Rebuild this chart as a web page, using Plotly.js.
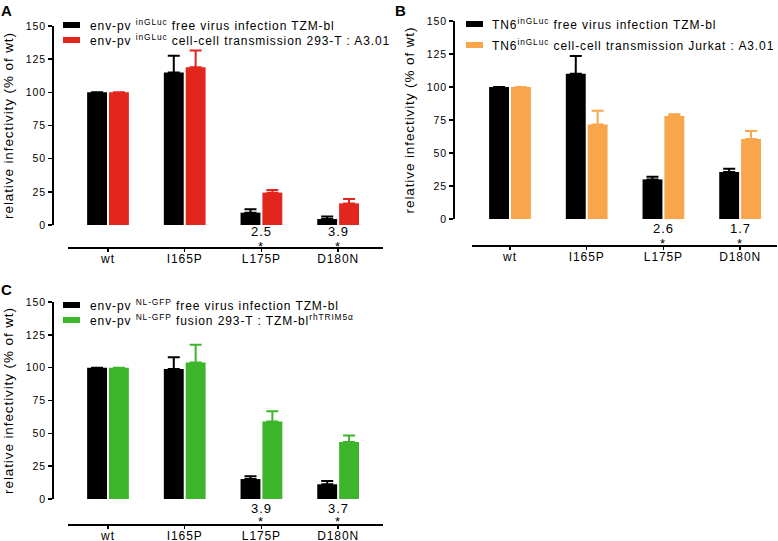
<!DOCTYPE html>
<html>
<head>
<meta charset="utf-8">
<script src="https://cdn.plot.ly/plotly-3.0.1.min.js"></script>
<style>
html,body{margin:0;padding:0;background:#fff;}
#chart{width:778px;height:541px;}
svg text{letter-spacing:0.9px;}
</style>
</head>
<body>
<div id="chart"></div>
<script>
// ---------- data ----------
const categories = ['wt', 'I165P', 'L175P', 'D180N'];

const aFree = [100, 115, 9.3, 4.5];
const aFreeErr = [null, 12.5, 2.5, 2];
const aCell = [100, 119, 24.4, 16.3];
const aCellErr = [null, 12.5, 2, 3.3];
const aRatio = ['', '', '2.5', '3.9'];

const bFree = [100, 110, 30, 35.7];
const bFreeErr = [null, 13.5, 2, 2.3];
const bCell = [100, 71.5, 78, 60.7];
const bCellErr = [null, 10.5, 1.3, 6];
const bRatio = ['', '', '2.6', '1.7'];

const cFree = [100, 99, 15.2, 11.2];
const cFreeErr = [null, 9, 2.1, 2.5];
const cCell = [100, 104, 59, 43.4];
const cCellErr = [null, 13.5, 7.8, 5];
const cRatio = ['', '', '3.9', '3.7'];

const legendA = ['env-pv <sup>inGLuc</sup> free virus infection TZM-bl',
                 'env-pv <sup>inGLuc</sup> cell-cell transmission 293-T : A3.01'];
const legendB = ['TN6<sup>inGLuc</sup> free virus infection TZM-bl',
                 'TN6<sup>inGLuc</sup> cell-cell transmission Jurkat : A3.01'];
const legendC = ['env-pv <sup>NL-GFP</sup> free virus infection TZM-bl',
                 'env-pv <sup>NL-GFP</sup> fusion 293-T : TZM-bl<sup>rhTRIM5\u03b1</sup>'];

const yTitle = 'relative infectivity (% of wt)';

// ---------- styling ----------
const W = 778, H = 541;
const px = x => x / W;
const py = y => 1 - y / H;
const FONT = 'Arial, "Liberation Sans", Helvetica, sans-serif';
const BLACK = '#000000', RED = '#e2261d', ORANGE = '#f8a54b', GREEN = '#3cb52a';

function barTrace(vals, errs, color, xa, ya) {
  return {
    type: 'bar', x: categories, y: vals, xaxis: xa, yaxis: ya,
    marker: {color: color, line: {width: 0}},
    error_y: {type: 'data', symmetric: false, array: errs,
              arrayminus: errs.map(e => (e === null ? null : 0)),
              color: color, thickness: 2, width: 6},
    showlegend: false, hoverinfo: 'skip'
  };
}

const data = [
  barTrace(aFree, aFreeErr, BLACK, 'x', 'y'),
  barTrace(aCell, aCellErr, RED, 'x', 'y'),
  barTrace(bFree, bFreeErr, BLACK, 'x2', 'y2'),
  barTrace(bCell, bCellErr, ORANGE, 'x2', 'y2'),
  barTrace(cFree, cFreeErr, BLACK, 'x3', 'y3'),
  barTrace(cCell, cCellErr, GREEN, 'x3', 'y3')
];

function yAxis(top, bottom, xpos) {
  return {
    domain: [py(bottom), py(top)], anchor: 'free', position: px(xpos),
    range: [0, 150], tickvals: [0, 25, 50, 75, 100, 125, 150],
    showline: true, linecolor: '#000', linewidth: 1.5,
    ticks: 'outside', ticklen: 4, tickwidth: 1.5, tickcolor: '#000',
    showgrid: false, zeroline: false, fixedrange: true,
    tickfont: {family: FONT, size: 10.5, color: '#000'},
    title: {text: yTitle, font: {family: FONT, size: 13.5, color: '#000'}, standoff: 7}
  };
}
function xAxis(left, right, ypos, r0, r1) {
  return {
    domain: [px(left), px(right)], anchor: 'free', position: py(ypos),
    range: [r0, r1], type: 'category',
    showline: true, linecolor: '#000', linewidth: 1.5,
    ticks: 'outside', ticklen: 3, tickwidth: 1.5, tickcolor: '#000',
    ticklabelstandoff: -3,
    showgrid: false, zeroline: false, fixedrange: true,
    tickfont: {family: FONT, size: 12, color: '#000'}
  };
}

const shapes = [];
const annotations = [];

function legend(x0, x1, ys, colors, texts, tx) {
  ys.forEach((y, i) => {
    shapes.push({type: 'rect', xref: 'paper', yref: 'paper',
      x0: px(x0), x1: px(x1), y0: py(y - 3), y1: py(y + 3),
      fillcolor: colors[i], line: {width: 0}});
    annotations.push({xref: 'paper', yref: 'paper', x: px(tx), y: py(y),
      xanchor: 'left', yanchor: 'middle', showarrow: false, text: texts[i],
      font: {family: FONT, size: 12, color: '#000'}});
  });
}
function ratios(labels, xa, yNum, yStar) {
  labels.forEach((t, i) => {
    if (!t) return;
    annotations.push({xref: xa, yref: 'paper', x: categories[i], y: py(yNum),
      xanchor: 'center', yanchor: 'middle', showarrow: false, text: t,
      font: {family: FONT, size: 13, color: '#000'}});
    annotations.push({xref: xa, yref: 'paper', x: categories[i], y: py(yStar),
      xanchor: 'center', yanchor: 'middle', showarrow: false, text: '*',
      font: {family: FONT, size: 13, color: '#000'}});
  });
}
function panelLetter(t, x, y) {
  annotations.push({xref: 'paper', yref: 'paper', x: px(x), y: py(y),
    xanchor: 'left', yanchor: 'middle', showarrow: false, text: '<b>' + t + '</b>',
    font: {family: FONT, size: 15, color: '#000'}});
}

legend(63, 80, [25, 40], [BLACK, RED], legendA, 88);
legend(466, 483, [24, 45], [BLACK, ORANGE], legendB, 490);
legend(63, 80, [305, 320], [BLACK, GREEN], legendC, 88);
ratios(aRatio, 'x', 231, 246);
ratios(bRatio, 'x2', 228, 244);
ratios(cRatio, 'x3', 508, 521);
panelLetter('A', -1, 10);
panelLetter('B', 393, 10);
panelLetter('C', -1, 289);

const layout = {
  width: W, height: H,
  margin: {l: 0, r: 0, t: 0, b: 0},
  paper_bgcolor: '#fff', plot_bgcolor: 'rgba(0,0,0,0)',
  barmode: 'group', bargap: 0.43, bargroupgap: 0.09,
  showlegend: false,
  font: {family: FONT, color: '#000'},
  xaxis: xAxis(68, 383, 247, -0.5215, 3.585),
  yaxis: yAxis(26, 225, 52),
  xaxis2: xAxis(472, 777, 245, -0.4954, 3.481),
  yaxis2: yAxis(21, 219, 453),
  xaxis3: xAxis(68, 383, 524, -0.5215, 3.585),
  yaxis3: yAxis(302, 499, 52),
  shapes: shapes,
  annotations: annotations
};

Plotly.newPlot('chart', data, layout, {displayModeBar: false, staticPlot: true});
</script>
</body>
</html>
